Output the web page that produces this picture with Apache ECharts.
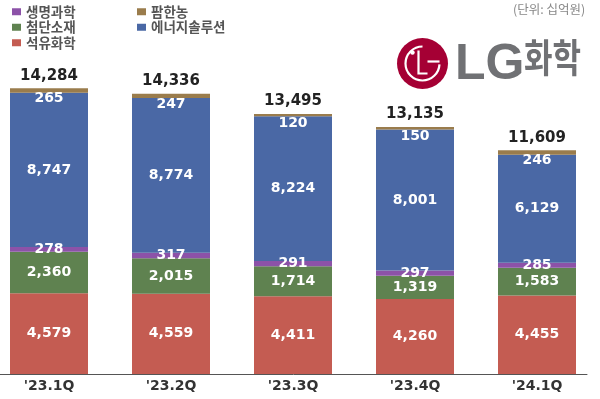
<!DOCTYPE html>
<html><head><meta charset="utf-8">
<script src="https://cdn.jsdelivr.net/npm/echarts@6/dist/echarts.min.js"></script>
<style>html,body{margin:0;padding:0;background:#fff}#c{width:600px;height:399px}</style>
</head><body><div id="c"></div>
<script>
const categories = ["'23.1Q", "'23.2Q", "'23.3Q", "'23.4Q", "'24.1Q"];
const petrochem = [4579, 4559, 4411, 4260, 4455];      // 석유화학
const advMaterials = [2360, 2015, 1714, 1319, 1583];   // 첨단소재
const lifeScience = [278, 317, 291, 297, 285];         // 생명과학
const energySol = [8747, 8774, 8224, 8001, 6129];      // 에너지솔루션
const farmHannong = [265, 247, 120, 150, 246];         // 팜한농
const totals = [14284, 14336, 13495, 13135, 11609];
const zeros = [0, 0, 0, 0, 0];

const fmt = v => Number(v).toLocaleString('en-US');
const numFont = 'DejaVu Sans';
const segLabel = (extra) => Object.assign({
  show: true, position: 'inside', color: '#fff', fontFamily: numFont,
  fontWeight: 'bold', fontSize: 14, formatter: p => fmt(p.value)
}, extra || {});
const bar = (name, data, color, label) => ({
  name, type: 'bar', stack: 's', barWidth: 78, clip: false, data,
  itemStyle: {color}, label
});

const chart = echarts.init(document.getElementById('c'), null, {renderer: 'canvas'});
const legendText = {fontFamily: 'Noto Sans CJK KR', fontSize: 13.5, fontWeight: 'bold', color: '#555'};
chart.setOption({
  animation: false,
  legend: [
    {data: ['생명과학', '첨단소재', '석유화학'], orient: 'vertical', left: 12, top: 5, itemGap: 2,
     itemWidth: 9, itemHeight: 7, icon: 'rect', textStyle: legendText, selectedMode: false, padding: 0},
    {data: ['팜한농', '에너지솔루션'], orient: 'vertical', left: 137, top: 5, itemGap: 2,
     itemWidth: 9, itemHeight: 7, icon: 'rect', textStyle: legendText, selectedMode: false, padding: 0}
  ],
  grid: [
    {left: 49, right: 63, top: 57, bottom: 25},
    {left: 0, right: 13, top: 57, bottom: 25}
  ],
  xAxis: [
    {type: 'category', data: categories, gridIndex: 0, boundaryGap: false,
     axisLine: {show: false}, axisTick: {show: false},
     axisLabel: {color: '#333', fontFamily: numFont, fontWeight: 'bold', fontSize: 14, margin: 5}},
    {type: 'category', data: categories, gridIndex: 1,
     axisLine: {show: true, lineStyle: {color: '#555', width: 1}}, axisTick: {show: false},
     axisLabel: {show: false}}
  ],
  yAxis: [
    {type: 'value', gridIndex: 0, min: 0, max: 18000, show: false, splitLine: {show: false}},
    {type: 'value', gridIndex: 1, min: 0, max: 18000, show: false, splitLine: {show: false}}
  ],
  series: [
    bar('석유화학', petrochem, '#c45c52', segLabel()),
    bar('첨단소재', advMaterials, '#5f8250', segLabel()),
    bar('생명과학', lifeScience, '#8c52a8', segLabel()),
    bar('에너지솔루션', energySol, '#4a68a5', segLabel()),
    bar('팜한농', farmHannong, '#9a7c4c', segLabel({offset: [0, 8]})),
    bar('total', zeros, 'transparent',
      {show: true, position: 'top', distance: 5, color: '#222', fontFamily: numFont,
       fontWeight: 'bold', fontSize: 15, formatter: p => fmt(totals[p.dataIndex])})
  ],
  graphic: [
    {type: 'text', left: 513, top: 3, style: {text: '(단위: 십억원)', font: '12.5px "Noto Sans CJK KR"', fill: '#888'}},
    {type: 'group', left: 397, top: 38, children: [
      {type: 'circle', shape: {cx: 26, cy: 26, r: 25.5}, style: {fill: '#a50034'}},
      {type: 'arc', shape: {cx: 26, cy: 26, r: 17, startAngle: -Math.PI/2, endAngle: 0.05, clockwise: false},
       style: {stroke: '#fff', lineWidth: 2.2, fill: null}},
      {type: 'line', shape: {x1: 31, y1: 24, x2: 43, y2: 24}, style: {stroke: '#fff', lineWidth: 2.2}},
      {type: 'polyline', shape: {points: [[22, 13], [22, 36], [31, 36]]}, style: {stroke: '#fff', lineWidth: 2.2, fill: null}},
      {type: 'circle', shape: {cx: 16, cy: 15, r: 2.2}, style: {fill: '#fff'}}
    ]},
    {type: 'text', left: 455, top: 40, style: {text: 'LG', font: 'bold 50px "Liberation Sans"', fill: '#707174'}},
    {type: 'text', left: 524, top: 38, scaleY: 1.25, style: {text: '화학', font: 'bold 31px "Noto Sans CJK KR"', fill: '#707174'}}
  ]
});
</script></body></html>
